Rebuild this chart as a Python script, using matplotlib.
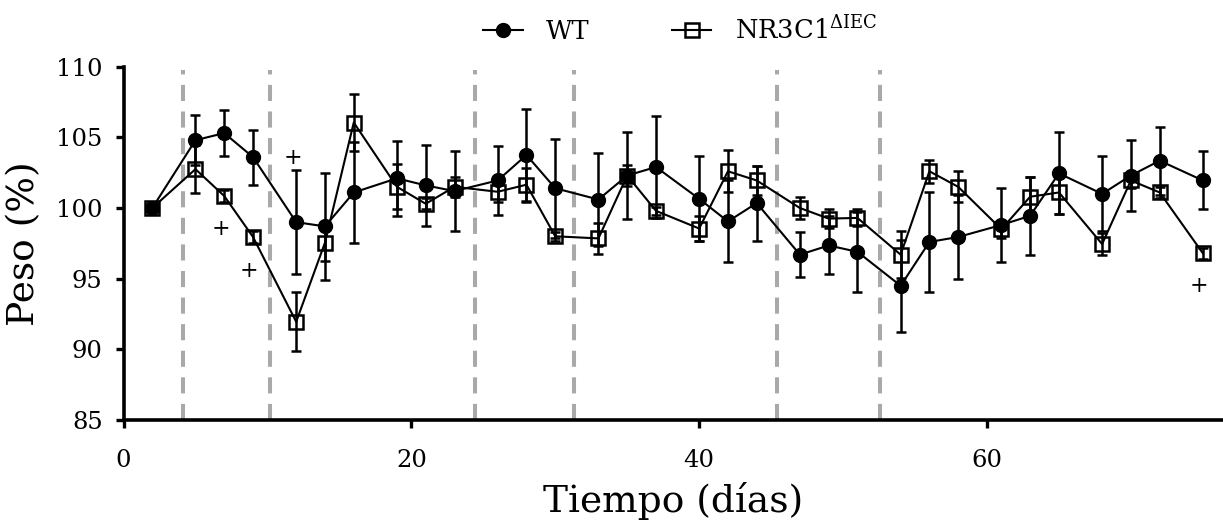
import matplotlib
matplotlib.use("Agg")
import matplotlib.pyplot as plt
from matplotlib.lines import Line2D

plt.rcParams["font.family"] = ["DejaVu Serif"]
plt.rcParams["mathtext.fontset"] = "dejavuserif"

# Sampling days
days = [2, 5, 7, 9, 12, 14, 16, 19, 21, 23, 26, 28, 30, 33, 35, 37,
        40, 42, 44, 47, 49, 51, 54, 56, 58, 61, 63, 65, 68, 70, 72, 75]

# Body weight (% of initial), mean and SEM
wt_mean = [100.0, 104.8, 105.3, 103.6, 99.0, 98.7, 101.1, 102.1, 101.6, 101.2,
           101.95, 103.75, 101.4, 100.6, 102.3, 102.9, 100.65, 99.05, 100.35,
           96.7, 97.35, 96.9, 94.5, 97.6, 97.95, 98.8, 99.45, 102.45, 101.0,
           102.3, 103.35, 101.95]
wt_err = [0.0, 1.75, 1.65, 1.95, 3.7, 3.8, 3.55, 2.65, 2.85, 2.8, 2.45, 3.25,
          3.5, 3.3, 3.1, 3.6, 3.0, 2.9, 2.65, 1.6, 2.05, 2.85, 3.25, 3.55,
          2.95, 2.65, 2.75, 2.9, 2.65, 2.5, 2.4, 2.05]

ko_mean = [100.0, 102.75, 100.85, 97.95, 91.95, 97.55, 106.05, 101.5, 100.3,
           101.5, 101.15, 101.65, 98.0, 97.85, 102.3, 99.8, 98.55, 102.6,
           101.95, 100.0, 99.25, 99.3, 96.7, 102.6, 101.5, 98.5, 100.8, 101.1,
           97.45, 101.95, 101.1, 96.8]
ko_err = [0.0, 1.7, 0.4, 0.4, 2.1, 1.3, 2.05, 1.6, 0.4, 0.7, 0.7, 1.2, 0.3,
          1.1, 0.75, 0.3, 0.9, 1.5, 1.0, 0.8, 0.65, 0.6, 1.65, 0.8, 1.1, 0.6,
          1.4, 1.55, 0.8, 0.5, 0.4, 0.4]

# Significance marks
plus_days = [7, 9, 12, 75]
plus_vals = [98.5, 95.55, 103.55, 94.5]

# Treatment events
event_days = [4.15, 10.15, 24.45, 31.3, 45.4, 52.6]

x_ticks = [0, 20, 40, 60]
y_ticks = [85, 90, 95, 100, 105, 110]

W, H = 1223, 524
fig = plt.figure(figsize=(W / 100, H / 100), dpi=100)
ax = fig.add_axes([123.5 / W, 1 - 420 / H, 1 - 123.5 / W, (420 - 66.7) / H])

for d in event_days:
    ax.plot([d, d], [85, 109.75], color="#a9a9a9", lw=2.9,
            ls=(0, (4.0, 2.6)), zorder=1, solid_capstyle="butt")

ax.errorbar(days, ko_mean, yerr=ko_err, fmt="s-", color="black", mfc="none",
            mec="black", mew=1.8, ms=9.5, lw=1.5, elinewidth=1.8, capsize=3.5,
            capthick=1.8, zorder=3)
ax.errorbar(days, wt_mean, yerr=wt_err, fmt="o-", color="black", ms=10,
            lw=1.5, elinewidth=1.8, capsize=3.5, capthick=1.8, zorder=4)

for d, v in zip(plus_days, plus_vals):
    ax.text(d - 0.25, v, "+", ha="center", va="center", fontsize=16,
            color="black", zorder=5)

ax.set_xlim(0, 76.4)
ax.set_ylim(85, 110)
ax.set_xticks(x_ticks)
ax.set_yticks(y_ticks)

for side in ("top", "right"):
    ax.spines[side].set_visible(False)
for side in ("left", "bottom"):
    ax.spines[side].set_linewidth(2.6)
ax.tick_params(axis="both", which="major", length=6, width=2.4, labelsize=17.5)
ax.tick_params(axis="x", pad=15)
ax.tick_params(axis="y", pad=9)

ax.set_xlabel("Tiempo (días)", fontsize=27, labelpad=7)
ax.set_ylabel("Peso (%)", fontsize=27, labelpad=10)

handles = [
    Line2D([], [], color="black", marker="o", ms=10, lw=1.5),
    Line2D([], [], color="black", marker="s", ms=9.5, mfc="none", mew=1.8, lw=1.5),
]
labels = ["WT", r"NR3C1$^{\Delta\mathrm{IEC}}$"]
fig.legend(handles, labels, loc="center", bbox_to_anchor=(680 / W, 1 - 30 / H),
           ncol=2, frameon=False, fontsize=18.5, handlelength=1.55,
           handletextpad=0.9, columnspacing=3.2)

fig.savefig("out.png", dpi=100)
